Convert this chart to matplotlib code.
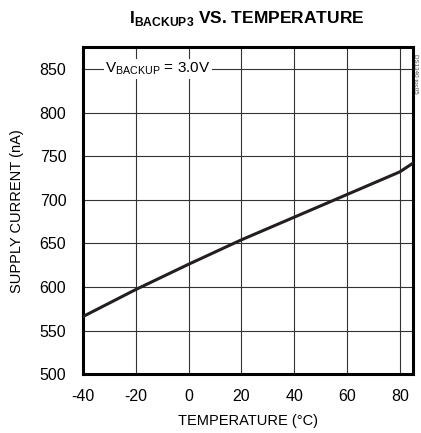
import matplotlib
matplotlib.use("Agg")
import matplotlib.pyplot as plt

plt.rcParams['font.family'] = ['Liberation Sans Narrow', 'Liberation Sans', 'DejaVu Sans']
plt.rcParams['axes.unicode_minus'] = False

temps = [-40, -20, 0, 20, 40, 60, 80, 85]
current = [566, 597, 626, 654, 680, 706, 732, 742]
xticks = [-40, -20, 0, 20, 40, 60, 80]
yticks = [500, 550, 600, 650, 700, 750, 800, 850]

fig = plt.figure(figsize=(4.21, 4.33), dpi=100)
ax = fig.add_axes([0.197, 0.136, 0.784, 0.755])
ax.plot(temps, current, color='#231f20', lw=2.2, zorder=3)
ax.set_xlim(-40, 85)
ax.set_ylim(500, 875)
ax.set_xticks(xticks)
ax.set_yticks(yticks)
ax.tick_params(axis='x', length=0, labelsize=11.5, pad=11)
ax.tick_params(axis='y', length=0, labelsize=11.5, pad=12)
ax.grid(True, color='#333333', lw=0.8)
for s in ax.spines.values():
    s.set_linewidth(2.2)
ax.set_xlabel('TEMPERATURE (°C)', fontsize=10.5, labelpad=7)
ax.set_ylabel('SUPPLY CURRENT (nA)', fontsize=10.5, labelpad=11)
ax.text(-31.5, 850, r'V$_{\mathregular{BACKUP}}$ = 3.0V', fontsize=11, va='center', ha='left',
        bbox=dict(facecolor='white', edgecolor='none', pad=1), zorder=4)
fig.text(0.587, 0.958, r'I$_{\mathregular{BACKUP3}}$ VS. TEMPERATURE', fontsize=12.5, fontweight='bold',
         ha='center', va='center')
fig.text(0.988, 0.83, 'DS1340 toc05', fontsize=4.5, rotation=270, ha='center', va='center', color='#444444')
fig.savefig('out.png', dpi=100)
